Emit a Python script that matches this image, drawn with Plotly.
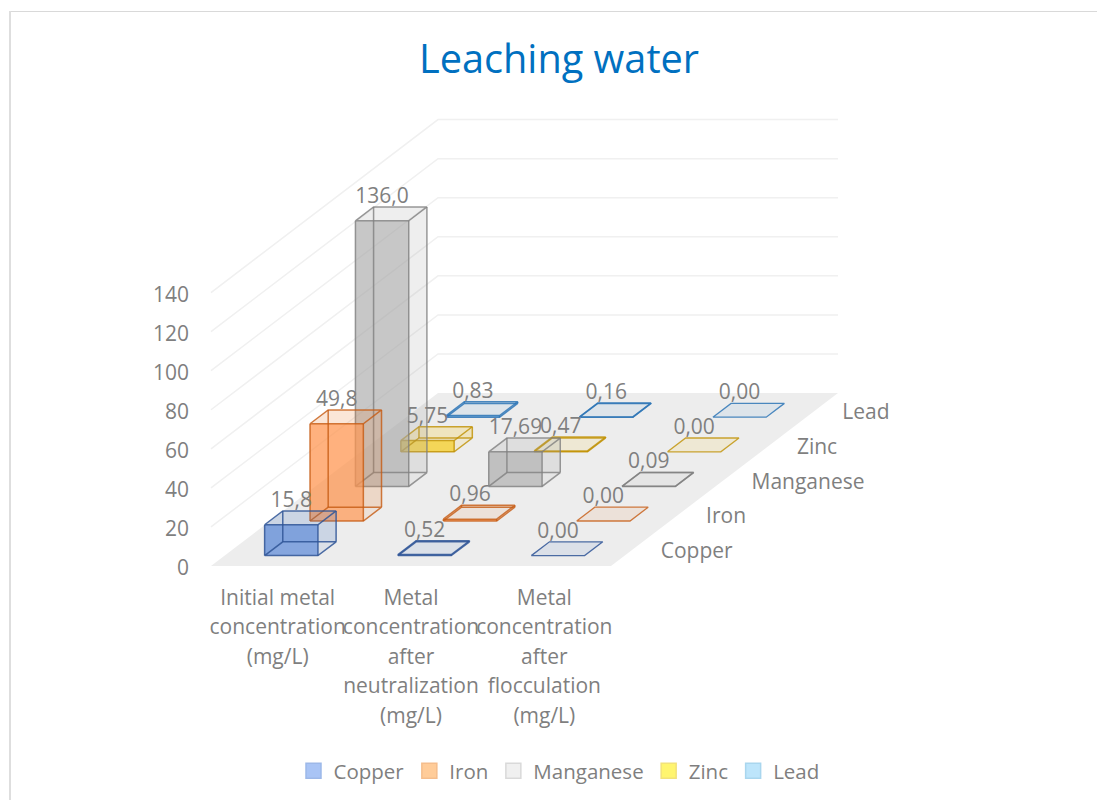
import plotly.graph_objects as go

# ---- data ----
categories = ["Initial metal<br>concentration<br>(mg/L)",
              "Metal<br>concentration<br>after<br>neutralization<br>(mg/L)",
              "Metal<br>concentration<br>after<br>flocculation<br>(mg/L)"]
series_names = ["Copper", "Iron", "Manganese", "Zinc", "Lead"]
copper = [15.8, 0.52, 0.00]
iron = [49.8, 0.96, 0.00]
manganese = [136.0, 17.69, 0.09]
zinc = [5.75, 0.47, 0.00]
lead = [0.83, 0.16, 0.00]
copper_labels = ["15,8", "0,52", "0,00"]
iron_labels = ["49,8", "0,96", "0,00"]
manganese_labels = ["136,0", "17,69", "0,09"]
zinc_labels = ["5,75", "0,47", "0,00"]
lead_labels = ["0,83", "0,16", "0,00"]
y_ticks = [0, 20, 40, 60, 80, 100, 120, 140]

series_values = [copper, iron, manganese, zinc, lead]
series_labels = [copper_labels, iron_labels, manganese_labels, zinc_labels, lead_labels]

# ---- styling / geometry ----
W, H = 1097, 800
X0, Y0 = 211, 566            # pixel of origin (floor front-left)
PX_CAT, PX_VAL = 400 / 3, 1.953
DX_DEPTH, DY_DEPTH = 227 / 5, 173 / 5  # pixels per series step
TXT = "#7f7f7f"
FONT = "Open Sans"
BASE = [(68, 114, 196), (237, 125, 49), (165, 165, 165), (255, 192, 0), (91, 155, 213)]
FRONT = ["rgba(90,135,215,0.7)", "rgba(255,150,80,0.7)", "rgba(165,165,165,0.58)",
         "rgba(247,205,30,0.72)", "rgba(91,155,213,0.7)"]
EDGE = ["rgba(47,85,151,0.85)", "rgba(197,90,17,0.8)", "rgba(127,127,127,0.8)",
        "rgba(191,144,0,0.8)", "rgba(46,117,182,0.85)"]
SWATCH = ["#a9c4f5", "#ffcc99", "#f0f0f0", "#fff56f", "#bde5fb"]
SWATCH_EDGE = ["#9db8e8", "#f5bd8c", "#d9d9d9", "#f2e27a", "#a9d6ee"]


def proj(cat, depth, val):
    """Oblique projection into the x (category) and y (value) axes."""
    return cat + depth * DX_DEPTH / PX_CAT, val + depth * DY_DEPTH / PX_VAL


def poly(points, fill):
    xs, ys = zip(*[proj(*p) for p in points + points[:1]])
    return go.Scatter(x=xs, y=ys, mode="lines", fill="toself", fillcolor=fill,
                      line=dict(width=0), showlegend=False, hoverinfo="skip")


fig = go.Figure()

# floor
fig.add_trace(poly([(0, 0, 0), (3, 0, 0), (3, 5, 0), (0, 5, 0)], "#ededed"))

# walls gridlines
gx, gy = [], []
for v in y_ticks:
    if v == 0:
        continue
    for c, d in [(0, 0), (0, 5), (3, 5)]:
        px, py = proj(c, d, v)
        gx.append(px)
        gy.append(py)
    gx.append(None)
    gy.append(None)
fig.add_trace(go.Scatter(x=gx, y=gy, mode="lines", line=dict(color="#f0f0f0", width=1.5),
                         showlegend=False, hoverinfo="skip"))

HALF = 0.2
for s in range(4, -1, -1):
    rgb = "rgba(%d,%d,%d,0.1)" % BASE[s]
    for c, v in enumerate(series_values[s]):
        a, b = c + 0.5 - HALF, c + 0.5 + HALF
        f, k = s + 0.5 - HALF, s + 0.5 + HALF
        fig.add_trace(poly([(a, k, 0), (b, k, 0), (b, k, v), (a, k, v)], rgb))  # back
        fig.add_trace(poly([(a, f, 0), (a, k, 0), (a, k, v), (a, f, v)], rgb))  # left
        fig.add_trace(poly([(a, f, v), (b, f, v), (b, k, v), (a, k, v)], rgb))  # top
        fig.add_trace(poly([(b, f, 0), (b, k, 0), (b, k, v), (b, f, v)], rgb))  # right
        fig.add_trace(poly([(a, f, 0), (b, f, 0), (b, f, v), (a, f, v)], FRONT[s]))  # front
        ex, ey = [], []
        for z in ((0, v) if v > 0 else (0,)):
            for p in [(a, f, z), (b, f, z), (b, k, z), (a, k, z), (a, f, z)]:
                px, py = proj(*p)
                ex.append(px)
                ey.append(py)
            ex.append(None)
            ey.append(None)
        if v > 0:
            for p in [(a, f), (b, f), (b, k), (a, k)]:
                for z in (0, v):
                    px, py = proj(p[0], p[1], z)
                    ex.append(px)
                    ey.append(py)
                ex.append(None)
                ey.append(None)
        fig.add_trace(go.Scatter(x=ex, y=ey, mode="lines",
                                 line=dict(color=EDGE[s], width=1.5 if v > 0 else 1.3),
                                 showlegend=False, hoverinfo="skip"))

# data labels
LABEL_LIFT = 9.5 / PX_VAL
lx, ly, lt = [], [], []
for s in range(5):
    for c, v in enumerate(series_values[s]):
        px, py = proj(c + 0.5, s + 0.5 - HALF, v)
        # label centred on the front face, just above the rear top edge
        _, back_y = proj(c + 0.5, s + 0.5 + HALF, v)
        lx.append(px)
        ly.append(back_y + LABEL_LIFT)
        lt.append(series_labels[s][c])
fig.add_trace(go.Scatter(x=lx, y=ly, text=lt, mode="text", textposition="middle center",
                         textfont=dict(family=FONT, size=21, color=TXT),
                         showlegend=False, hoverinfo="skip"))

# depth-axis labels
dx, dy = [], []
for s in range(5):
    px, py = proj(3, s + 0.5, -2)
    dx.append(px + 27 / PX_CAT)
    dy.append(py)
fig.add_trace(go.Scatter(x=dx, y=dy, text=series_names, mode="text", textposition="middle right",
                         textfont=dict(family=FONT, size=21, color=TXT),
                         showlegend=False, hoverinfo="skip"))

# legend entries
for s, name in enumerate(series_names):
    fig.add_trace(go.Scatter(x=[None], y=[None], mode="markers", name=name,
                             marker=dict(symbol="square", size=15, color=SWATCH[s],
                                         line=dict(color=SWATCH_EDGE[s], width=1.5))))

SPAN = 22.7
cat_text = ["<br>".join('<span style="font-size:21px">%s</span>' % ln for ln in t.split("<br>"))
            for t in categories]

fig.update_layout(
    width=W, height=H, autosize=False, margin=dict(l=0, r=0, t=0, b=0),
    paper_bgcolor="white", plot_bgcolor="rgba(0,0,0,0)",
    font=dict(family=FONT, color=TXT),
    title=dict(text="Leaching water", x=559 / W, y=1 - 59.5 / H, xanchor="center", yanchor="middle",
               xref="paper", yref="paper",
               font=dict(family=FONT, size=39.7, color="#0070c0")),
    xaxis=dict(range=[(0 - X0) / PX_CAT, (W - X0) / PX_CAT],
               tickmode="array", tickvals=[0.5, 1.5, 2.5], ticktext=cat_text, tickangle=0,
               tickfont=dict(family=FONT, size=SPAN, color=TXT),
               showgrid=False, zeroline=False, showline=False, ticks="",
               anchor="free", position=1 - 581 / H),
    yaxis=dict(range=[(Y0 - H) / PX_VAL, Y0 / PX_VAL],
               tickmode="array", tickvals=y_ticks,
               tickfont=dict(family=FONT, size=21, color=TXT),
               ticklabelshift=2,
               showgrid=False, zeroline=False, showline=False, ticks="",
               anchor="free", position=189 / W),
    legend=dict(orientation="h", x=559 / W, xanchor="center", y=1 - 771 / H, yanchor="middle",
                font=dict(family=FONT, size=20.5, color=TXT), itemsizing="trace",
                bgcolor="rgba(0,0,0,0)"),
    shapes=[
        dict(type="line", xref="paper", yref="paper", x0=9 / W, x1=1, y0=1 - 11.5 / H, y1=1 - 11.5 / H,
             line=dict(color="#d9d9d9", width=1.2)),
        dict(type="line", xref="paper", yref="paper", x0=10 / W, x1=10 / W, y0=0, y1=1 - 11 / H,
             line=dict(color="#dedede", width=2)),
    ],
)

fig.write_html("out.html", config=dict(displayModeBar=False),
               post_script="document.body.style.margin='0';document.body.style.overflow='hidden';")
